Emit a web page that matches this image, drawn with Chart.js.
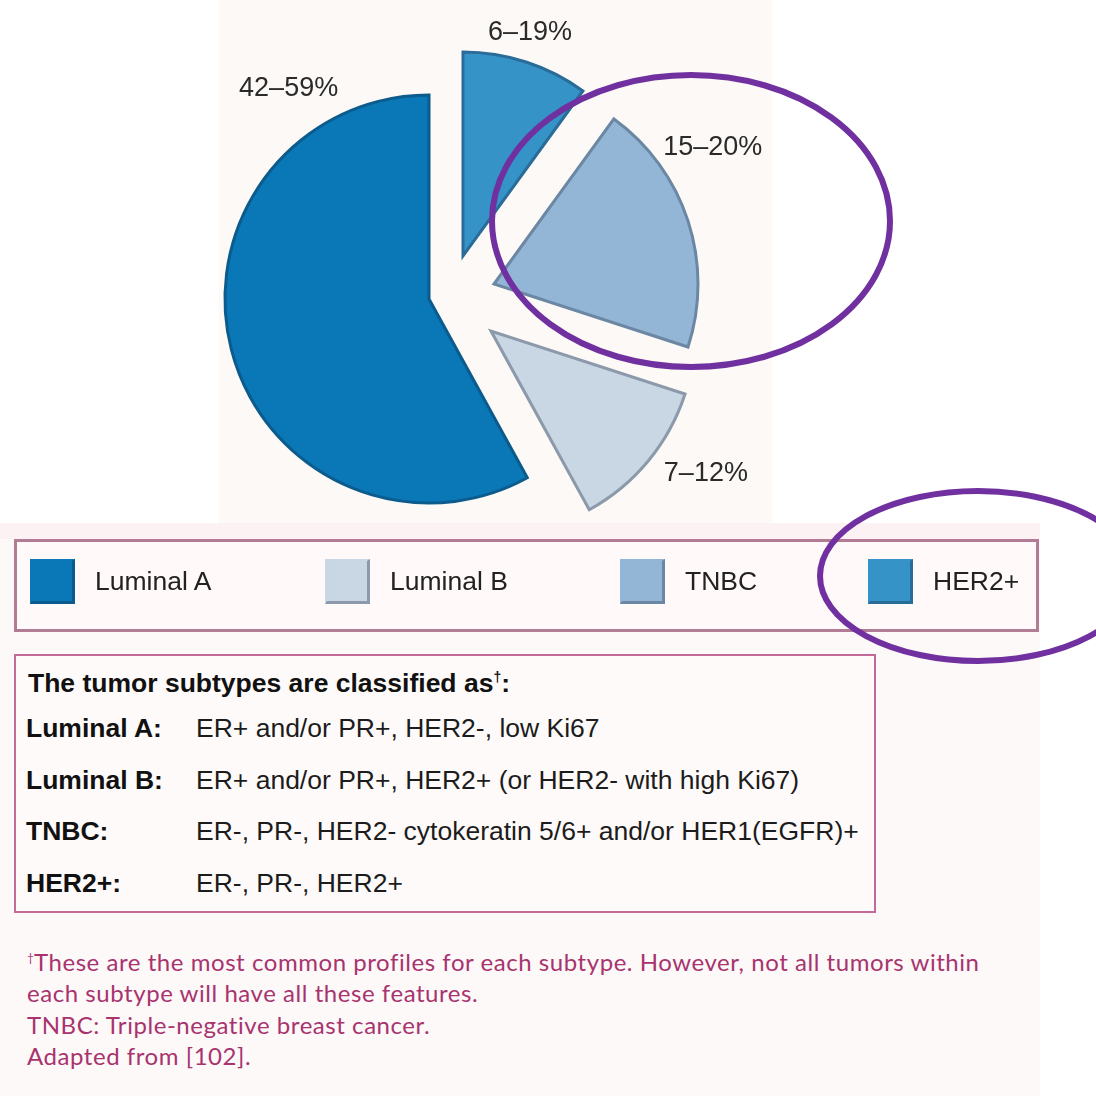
<!DOCTYPE html>
<html>
<head>
<meta charset="utf-8">
<script src="https://cdn.jsdelivr.net/npm/chart.js@4/dist/chart.umd.min.js"></script>
<style>
  html, body { margin: 0; padding: 0; background: #ffffff; }
  body { width: 1096px; height: 1096px; position: relative; overflow: hidden; font-family: "Liberation Sans", Arial, sans-serif; }
  #panel { position: absolute; left: 219px; top: 0; width: 553px; height: 523px; background: #fcf9f6; }
  #lower { position: absolute; left: 0; top: 523px; width: 1040px; height: 573px; background: #fdf9f8; }
  #band { position: absolute; left: 0; top: 523px; width: 1040px; height: 16px; background: #fcf1f3; }
  #pie { position: absolute; left: 0; top: 0; }
  #legend { position: absolute; left: 14px; top: 539px; width: 1019px; height: 87px; border: 3px solid #b27c94; background: #fff9f9; }
  .item { position: absolute; top: -4px; height: 87px; display: flex; align-items: center; }
  .swatch { width: 40px; height: 40px; border-style: solid; border-width: 2px 3px 3px 2px; margin-right: 20px; }
  .item span { font-size: 26.5px; color: #222; }
  #defs { position: absolute; left: 14px; top: 654px; width: 858px; height: 255px; border: 2px solid #c46a98; background: #fefafa; }
  #defs .title { position: absolute; left: 12px; top: 12px; font-weight: bold; font-size: 26.5px; color: #111; white-space: nowrap; }
  #defs .title sup { font-size: 14px; vertical-align: 10px; line-height: 0; }
  .row { position: absolute; left: 10px; font-size: 26.5px; color: #1c1c1c; white-space: nowrap; }
  .row b { display: inline-block; width: 170px; color: #111; }
  #notes { position: absolute; left: 27px; top: 946px; font-family: Lato, "Open Sans", sans-serif; font-size: 24px; letter-spacing: 0.55px; line-height: 31.3px; color: #a8336f; white-space: nowrap; }
  #notes sup { font-size: 12px; vertical-align: 9px; line-height: 0; letter-spacing: 0; }
  #marks { position: absolute; left: 0; top: 0; pointer-events: none; }
</style>
</head>
<body>
<div id="panel"></div>
<div id="lower"></div>
<div id="band"></div>
<canvas id="pie" width="860" height="594"></canvas>
<div id="legend"></div>
<div id="defs">
  <div class="title">The tumor subtypes are classified as<sup>†</sup>:</div>
</div>
<div id="notes"></div>
<svg id="marks" width="1096" height="1096">
  <ellipse cx="691" cy="221" rx="199" ry="146" fill="none" stroke="#7030a0" stroke-width="6"/>
  <ellipse cx="978" cy="576" rx="158" ry="85" fill="none" stroke="#7030a0" stroke-width="6"/>
</svg>
<script>
// Subtypes in drawing order (clockwise from 12 o'clock)
const subtypes = ['HER2+', 'TNBC', 'Luminal B', 'Luminal A'];
// Share of tumours per subtype (%)
const shares = [10, 20, 12, 58];
// Reported prevalence ranges shown next to each slice
const rangeLabels = ['6–19%', '15–20%', '7–12%', '42–59%'];
const fillColors = ['#3593c8', '#93b6d6', '#c9d6e4', '#0a77b6'];
const edgeColors = ['#2a6c98', '#6c87a3', '#8c99aa', '#0b5b8d'];

// Legend order
const legendOrder = ['Luminal A', 'Luminal B', 'TNBC', 'HER2+'];

// Classification table
const defNames = ['Luminal A:', 'Luminal B:', 'TNBC:', 'HER2+:'];
const defTexts = [
  'ER+ and/or PR+, HER2-, low Ki67',
  'ER+ and/or PR+, HER2+ (or HER2- with high Ki67)',
  'ER-, PR-, HER2- cytokeratin 5/6+ and/or HER1(EGFR)+',
  'ER-, PR-, HER2+'
];

// Footnotes
const noteLines = [
  '<sup>†</sup>These are the most common profiles for each subtype. However, not all tumors within',
  'each subtype will have all these features.',
  'TNBC: Triple-negative breast cancer.',
  'Adapted from [102].'
];

// Exploded-slice displacement (px) and label anchors around the pie
const shiftX = [33, 64, 61, -1];
const shiftY = [-41, -13, 34, 2];
const labelAngles = [16.7, 58, 123.6, 326.3];   // degrees, clockwise from top
const labelDistances = [233, 258, 258, 253];
const legendX = [13, 308, 603, 851];
const rowTops = [728, 780, 831, 883];

const explodePlugin = {
  id: 'explode',
  beforeDatasetsDraw(chart) {
    const area = chart.chartArea;
    const cx = (area.left + area.right) / 2;
    const cy = (area.top + area.bottom) / 2;
    chart.getDatasetMeta(0).data.forEach((arc, i) => {
      arc.x = cx + shiftX[i];
      arc.y = cy + shiftY[i];
    });
  }
};

const rangeLabelPlugin = {
  id: 'rangeLabels',
  afterDatasetsDraw(chart) {
    const ctx = chart.ctx;
    ctx.save();
    ctx.font = '27px "Liberation Sans", Arial, sans-serif';
    ctx.fillStyle = '#2a2a2a';
    ctx.textAlign = 'center';
    ctx.textBaseline = 'middle';
    chart.getDatasetMeta(0).data.forEach((arc, i) => {
      const a = labelAngles[i] * Math.PI / 180;
      const d = labelDistances[i];
      ctx.fillText(rangeLabels[i], arc.x + Math.sin(a) * d, arc.y - Math.cos(a) * d);
    });
    ctx.restore();
  }
};

new Chart(document.getElementById('pie'), {
  type: 'pie',
  data: {
    labels: subtypes,
    datasets: [{
      data: shares,
      backgroundColor: fillColors,
      borderColor: edgeColors,
      borderWidth: 3,
      borderJoinStyle: 'miter'
    }]
  },
  options: {
    responsive: false,
    animation: false,
    events: [],
    radius: 204,
    layout: { padding: 0 },
    plugins: { legend: { display: false }, tooltip: { enabled: false } }
  },
  plugins: [explodePlugin, rangeLabelPlugin]
});

// Legend boxes
const legend = document.getElementById('legend');
legendOrder.forEach((name, k) => {
  const i = subtypes.indexOf(name);
  const item = document.createElement('div');
  item.className = 'item';
  item.style.left = legendX[k] + 'px';
  const sw = document.createElement('div');
  sw.className = 'swatch';
  sw.style.background = fillColors[i];
  sw.style.borderColor = fillColors[i] + ' ' + edgeColors[i] + ' ' + edgeColors[i] + ' ' + fillColors[i];
  const tx = document.createElement('span');
  tx.textContent = name;
  item.appendChild(sw);
  item.appendChild(tx);
  legend.appendChild(item);
});

// Definitions table
const defs = document.getElementById('defs');
defNames.forEach((n, k) => {
  const r = document.createElement('div');
  r.className = 'row';
  r.style.top = (rowTops[k] - 654 - 17) + 'px';
  const b = document.createElement('b');
  b.textContent = n;
  r.appendChild(b);
  r.appendChild(document.createTextNode(defTexts[k]));
  defs.appendChild(r);
});

document.getElementById('notes').innerHTML = noteLines.join('<br>');
</script>
</body>
</html>
